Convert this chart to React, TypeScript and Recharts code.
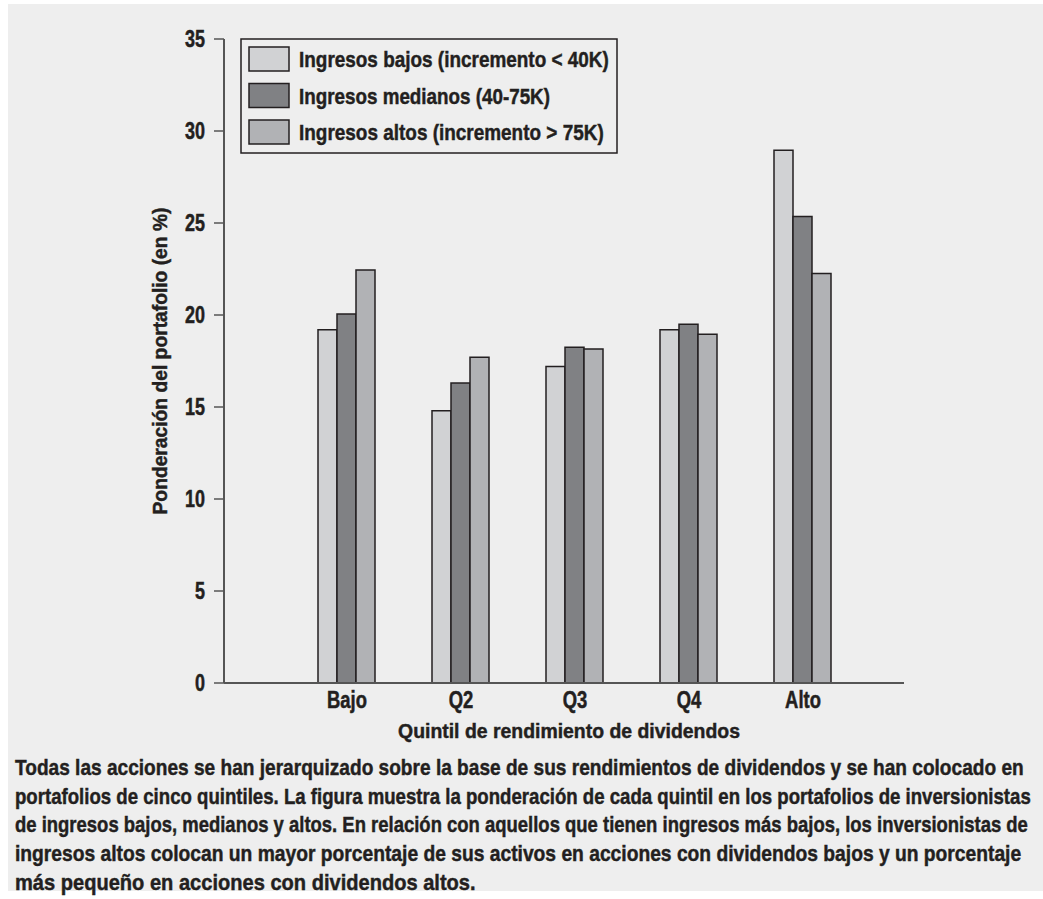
import React from 'react';
import { BarChart, Bar, XAxis, YAxis } from 'recharts';

const categories = ['Bajo', 'Q2', 'Q3', 'Q4', 'Alto'];
const bajos = [19.2, 14.8, 17.2, 19.2, 28.95];
const medianos = [20.05, 16.3, 18.25, 19.5, 25.35];
const altos = [22.45, 17.7, 18.15, 18.95, 22.25];
const yTicks = [0, 5, 10, 15, 20, 25, 30, 35];

const seriesNames = [
  'Ingresos bajos (incremento < 40K)',
  'Ingresos medianos (40-75K)',
  'Ingresos altos (incremento > 75K)',
];
const seriesColors = ['#d1d2d4', '#808184', '#b1b2b5'];
const legendTextWidths = [310, 251, 305];

const captionLines = [
  'Todas las acciones se han jerarquizado sobre la base de sus rendimientos de dividendos y se han colocado en',
  'portafolios de cinco quintiles. La figura muestra la ponderación de cada quintil en los portafolios de inversionistas',
  'de ingresos bajos, medianos y altos. En relación con aquellos que tienen ingresos más bajos, los inversionistas de',
  'ingresos altos colocan un mayor porcentaje de sus activos en acciones con dividendos bajos y un porcentaje',
  'más pequeño en acciones con dividendos altos.',
];
const captionWidths = [1009, 1016, 1014, 1007, 461];

const data = categories.map((c, i) => ({
  name: c,
  bajos: bajos[i],
  medianos: medianos[i],
  altos: altos[i],
}));

const FONT = "'Liberation Sans', Arial, sans-serif";
const INK = '#231f20';

let measureCtx: CanvasRenderingContext2D | null = null;
function measure(text: string, size: number): number {
  if (!measureCtx && typeof document !== 'undefined') {
    const c = document.createElement('canvas');
    measureCtx = c.getContext('2d');
  }
  if (!measureCtx) return text.length * size * 0.55;
  measureCtx.font = `bold ${size}px 'Liberation Sans', Arial, sans-serif`;
  return measureCtx.measureText(text).width;
}

// Condensed bold text: fit a string into a target width by horizontal scaling
const FitText = ({ x, y, text, size, width, anchor = 'start', rotate = 0 }: any) => {
  const natural = measure(text, size);
  const sx = width / natural;
  return (
    <g transform={`translate(${x},${y}) rotate(${rotate}) scale(${sx},1)`}>
      <text
        x={0}
        y={0}
        textAnchor={anchor}
        fontFamily={FONT}
        fontWeight={700}
        fontSize={size}
        fill={INK}
        stroke={INK}
        strokeWidth={0.45}
      >
        {text}
      </text>
    </g>
  );
};

const YTick = (props: any) => {
  const { x, y, payload } = props;
  return (
    <g transform={`translate(${x},${y}) scale(0.78,1)`}>
      <text x={0} y={0} dy="0.36em" textAnchor="end" fontFamily={FONT} fontWeight={700} fontSize={23} fill={INK} stroke={INK} strokeWidth={0.5}>
        {payload.value}
      </text>
    </g>
  );
};

const XTick = (props: any) => {
  const { x, y, payload } = props;
  return (
    <g transform={`translate(${x},${y}) scale(0.8,1)`}>
      <text x={0} y={0} dy={23} textAnchor="middle" fontFamily={FONT} fontWeight={700} fontSize={23} fill={INK} stroke={INK} strokeWidth={0.5}>
        {payload.value}
      </text>
    </g>
  );
};

const YLabel = (props: any) => {
  const vb = props.viewBox || {};
  const cx = vb.x + 23;
  const cy = vb.y + vb.height / 2;
  return <FitText x={cx} y={cy} text="Ponderación del portafolio (en %)" size={20} width={307} anchor="middle" rotate={-90} />;
};

const XLabel = (props: any) => {
  const vb = props.viewBox || {};
  const cx = vb.x + vb.width / 2 + 5;
  const cy = vb.y + 55;
  return <FitText x={cx} y={cy} text="Quintil de rendimiento de dividendos" size={20} width={342} anchor="middle" />;
};

const LegendSvg = () => (
  <svg width={1043} height={200} style={{ position: 'absolute', left: 0, top: 0, pointerEvents: 'none' }}>
    <rect x={241} y={39} width={376} height={114} fill="#eeeeee" stroke={INK} strokeWidth={1.5} />
    {seriesNames.map((n, i) => (
      <g key={n}>
        <rect x={249} y={47 + i * 36.5} width={40} height={24} fill={seriesColors[i]} stroke={INK} strokeWidth={1.5} />
        <FitText x={299} y={67 + i * 36.5} text={n} size={22} width={legendTextWidths[i]} />
      </g>
    ))}
  </svg>
);

export default function App() {
  return (
    <div style={{ position: 'absolute', left: 0, top: 0, width: 1043, height: 899, background: '#ffffff' }}>
      <div style={{ position: 'absolute', left: 8, top: 4, width: 1035, height: 887, background: '#eeeeee' }} />
      <div style={{ position: 'absolute', left: 0, top: 0 }}>
        <BarChart
          width={1043}
          height={760}
          data={data}
          margin={{ top: 39, right: 139, left: 144, bottom: 17 }}
          barCategoryGap={28}
          barGap={0}
        >
          <XAxis
            dataKey="name"
            height={60}
            padding={{ left: 66, right: 44 }}
            tickLine={false}
            tickSize={0}
            tickMargin={2}
            axisLine={{ stroke: '#555555', strokeWidth: 2 }}
            tick={<XTick />}
            label={<XLabel />}
          />
          <YAxis
            width={80}
            domain={[0, 35]}
            ticks={yTicks}
            type="number"
            tickSize={10}
            tickMargin={9}
            tickLine={{ stroke: '#555555', strokeWidth: 1.5 }}
            axisLine={{ stroke: '#555555', strokeWidth: 2 }}
            tick={<YTick />}
            label={<YLabel />}
          />
          <Bar dataKey="bajos" name={seriesNames[0]} fill={seriesColors[0]} stroke={INK} strokeWidth={1.5} isAnimationActive={false} />
          <Bar dataKey="medianos" name={seriesNames[1]} fill={seriesColors[1]} stroke={INK} strokeWidth={1.5} isAnimationActive={false} />
          <Bar dataKey="altos" name={seriesNames[2]} fill={seriesColors[2]} stroke={INK} strokeWidth={1.5} isAnimationActive={false} />
        </BarChart>
      </div>
      <LegendSvg />
      <svg width={1043} height={899} style={{ position: 'absolute', left: 0, top: 0, pointerEvents: 'none' }}>
        {captionLines.map((l, i) => (
          <FitText key={l} x={15} y={775 + i * 28.7} text={l} size={22} width={captionWidths[i]} />
        ))}
      </svg>
    </div>
  );
}
